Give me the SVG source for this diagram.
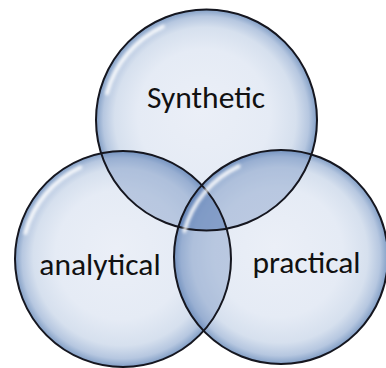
<svg xmlns="http://www.w3.org/2000/svg" width="386" height="368" viewBox="0 0 386 368">
  <defs>
    <radialGradient id="bubble" cx="0.5" cy="0.5" r="0.5" fx="0.47" fy="0.45">
      <stop offset="0" stop-color="#EBEFF7"/>
      <stop offset="0.6" stop-color="#E5EBF5"/>
      <stop offset="0.82" stop-color="#D6E0EE"/>
      <stop offset="0.93" stop-color="#B6C7E0"/>
      <stop offset="0.985" stop-color="#8DA7CB"/>
      <stop offset="1" stop-color="#6E8AB4"/>
    </radialGradient>
    <clipPath id="cT"><circle cx="206.5" cy="120" r="110.5"/></clipPath>
    <clipPath id="cL"><circle cx="123" cy="259" r="108"/></clipPath>
    <clipPath id="cR"><circle cx="281" cy="257" r="107"/></clipPath>
    <filter id="blur" x="-20%" y="-20%" width="140%" height="140%">
      <feGaussianBlur stdDeviation="1.6"/>
    </filter>
    <style>
      .base { fill: url(#bubble); }
      .ov { fill: #5A7DB3; fill-opacity: 0.32; }
      .rim { fill: none; stroke: #15161f; stroke-width: 2; }
      .hl { fill: none; stroke: #FFFFFF; stroke-width: 4; stroke-linecap: round; opacity: 0.85; filter: url(#blur); }
      .lbl { font-family: Carlito, Lato, "Liberation Sans", sans-serif; font-size: 31.5px; fill: #111111; text-anchor: middle; }
    </style>
  </defs>
  <rect width="386" height="368" fill="#FFFFFF"/>
  <g id="fills">
    <circle class="base" cx="206.5" cy="120" r="110.5"/>
    <circle class="base" cx="123" cy="259" r="108"/>
    <circle class="base" cx="281" cy="257" r="107"/>
  </g>
  <g id="overlaps">
    <circle class="ov" cx="123" cy="259" r="108" clip-path="url(#cT)"/>
    <circle class="ov" cx="281" cy="257" r="107" clip-path="url(#cT)"/>
    <circle class="ov" cx="281" cy="257" r="107" clip-path="url(#cL)"/>
  </g>
  <g id="node-synthetic">
    <path class="hl" d="M107,93.3 A103,103 0 0 1 162.9,26.7"/>
    <circle class="rim" cx="206.5" cy="120" r="110.5"/>
    <text class="lbl" x="206" y="108">Synthetic</text>
  </g>
  <g id="node-analytical">
    <path class="hl" d="M25.4,232.9 A101,101 0 0 1 80.3,167.5"/>
    <circle class="rim" cx="123" cy="259" r="108"/>
    <text class="lbl" x="100" y="275">analytical</text>
  </g>
  <g id="node-practical">
    <path class="hl" d="M184.4,231.1 A100,100 0 0 1 238.7,166.4"/>
    <circle class="rim" cx="281" cy="257" r="107"/>
    <text class="lbl" x="306.5" y="273">practical</text>
  </g>
  <g id="connectors"/>
</svg>
